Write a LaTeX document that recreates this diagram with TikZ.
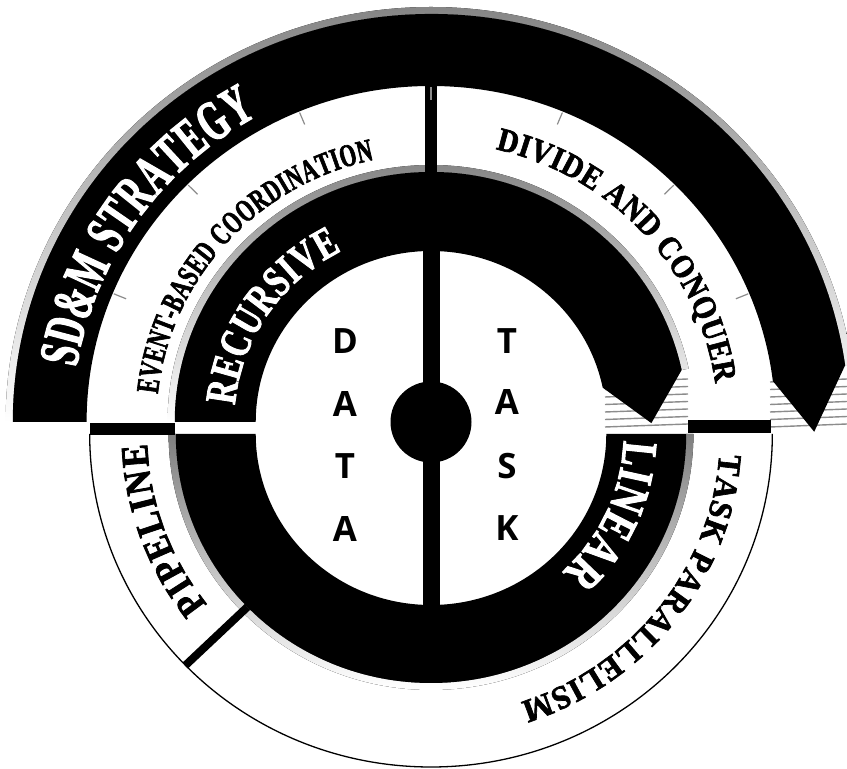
\documentclass[tikz,border=0pt]{standalone}
\usepackage{fontspec}
\usetikzlibrary{decorations.text}
\newfontfamily\fA{Liberation Serif}[FakeStretch=0.61,FakeBold=2]
\newfontfamily\fB{Liberation Serif}[FakeStretch=0.66,FakeBold=2]
\newfontfamily\fC{Liberation Serif}[FakeStretch=0.73,FakeBold=2]
\newfontfamily\fD{Liberation Serif}[FakeStretch=0.88,FakeBold=2]
\newfontfamily\fE{Liberation Serif}[FakeStretch=0.95,FakeBold=2]
\newfontfamily\sansA{Open Sans}
\definecolor{shade}{gray}{0.95}
\definecolor{hatchgray}{gray}{0.55}
\definecolor{tickgray}{gray}{0.55}
\tikzset{
  hatchline/.style={draw=hatchgray, line width=1.4bp},
  tickline/.style={draw=tickgray, line width=1.2bp},
  letter/.style={inner sep=0pt, font=\sansA\bfseries\fontsize{35}{35}\selectfont},
}
\begin{document}
\begin{tikzpicture}[x=1bp,y=1bp]
\useasboundingbox (0,0) rectangle (847,769);
% hatching behind the arrow ends
\foreach \y in {342,349.5,357,364.5,372,379.5,387}{
  \draw[hatchline] (605,\y) -- (688,\y+3);
  \draw[hatchline] (770,\y) -- (847,\y+3);
}
% upper half
\begin{scope}[shift={(431,347)}, xscale=1.025]
  \fill[shade] (8:408) arc[start angle=8,end angle=180,radius=408] -- (180:415) arc[start angle=180,end angle=8,radius=415] -- cycle;
  \fill[shade] (12:250) arc[start angle=12,end angle=180,radius=250] -- (180:257) arc[start angle=180,end angle=12,radius=257] -- cycle;
  \fill[black] (8:408) arc[start angle=8,end angle=180,radius=408] -- (180:336) arc[start angle=180,end angle=7,radius=336] -- (-1.5:374) -- cycle;
  \fill[black] (12:250) arc[start angle=12,end angle=180,radius=250] -- (180:171) arc[start angle=180,end angle=11.6,radius=171] -- (-0.3:215) -- cycle;
\end{scope}
% lower half
\begin{scope}[shift={(431,335)}, xscale=1.025]
  \fill[shade] (180:249) arc[start angle=180,end angle=360,radius=249] -- (0:256) arc[start angle=360,end angle=180,radius=256] -- cycle;
  \fill[black] (180:249) arc[start angle=180,end angle=360,radius=249] -- (0:171) arc[start angle=360,end angle=180,radius=171] -- cycle;
  \draw[line width=1.3bp] (180:333) arc[start angle=180,end angle=360,radius=333];
  \draw[line width=8bp] (224:249) -- (224:333);
\end{scope}
% bars and vertical dividers
\fill (90,334) rectangle (175,346);
\fill (688,336) rectangle (771,349);
\fill (425,592) rectangle (437,688);
\fill (422.5,162) rectangle (439.5,520);
\fill (431,347) circle (40.5);
% ticks
\begin{scope}[shift={(431,347)}, xscale=1.025]
  \foreach \a in {22.5,45,67.5,90,112.5,135,157.5}
    \draw[tickline] (\a:322) -- (\a:335);
  % curved labels, upper half
  \path[decorate, decoration={text along path, text align=fit to path, text color=white,
    text={|\fA\bfseries\fontsize{57}{60}\selectfont|SD{\&}M STRATEGY}}]
    (171:350) arc[start angle=171,end angle=119,radius=350];
  \path[decorate, decoration={text along path, text align=fit to path, text color=black,
    text={|\fB\bfseries\fontsize{32}{34}\selectfont|EVENT-BASED COORDINATION}}]
    (174:268) arc[start angle=174,end angle=102,radius=268];
  \path[decorate, decoration={text along path, text align=fit to path, text color=white,
    text={|\fC\bfseries\fontsize{44}{46}\selectfont|RECURSIVE}}]
    (175:192) arc[start angle=175,end angle=117,radius=192];
  \path[decorate, decoration={text along path, text align=fit to path, text color=black,
    text={|\fD\bfseries\fontsize{33}{35}\selectfont|DIVIDE AND CONQUER}}]
    (77:280) arc[start angle=77,end angle=8,radius=280];
\end{scope}
% curved labels, lower half
\begin{scope}[shift={(431,335)}, xscale=1.025]
  \path[decorate, decoration={text along path, text align=fit to path, text color=black,
    text={|\fD\bfseries\fontsize{39}{41}\selectfont|PIPELINE}}]
    (218:277) arc[start angle=218,end angle=182,radius=277];
  \path[decorate, decoration={text along path, text align=fit to path, text color=white,
    text={|\fC\bfseries\fontsize{50}{52}\selectfont|LINEAR}}]
    (-2:188) arc[start angle=-2,end angle=-47,radius=188];
  \path[decorate, decoration={text along path, text align=fit to path, text color=black,
    text={|\fE\bfseries\fontsize{33}{35}\selectfont|TASK PARALLELISM}}]
    (-4:282) arc[start angle=-4,end angle=-72,radius=282];
\end{scope}
% DATA / TASK
\node[letter] (d1) at (345,428) {D};
\node[letter] (d2) at (345,365) {A};
\node[letter] (d3) at (345,303) {T};
\node[letter] (d4) at (345,240) {A};
\node[letter] (t1) at (507,428) {T};
\node[letter] (t2) at (507,367) {A};
\node[letter] (t3) at (507,303) {S};
\node[letter] (t4) at (507,241) {K};
\end{tikzpicture}
\end{document}
